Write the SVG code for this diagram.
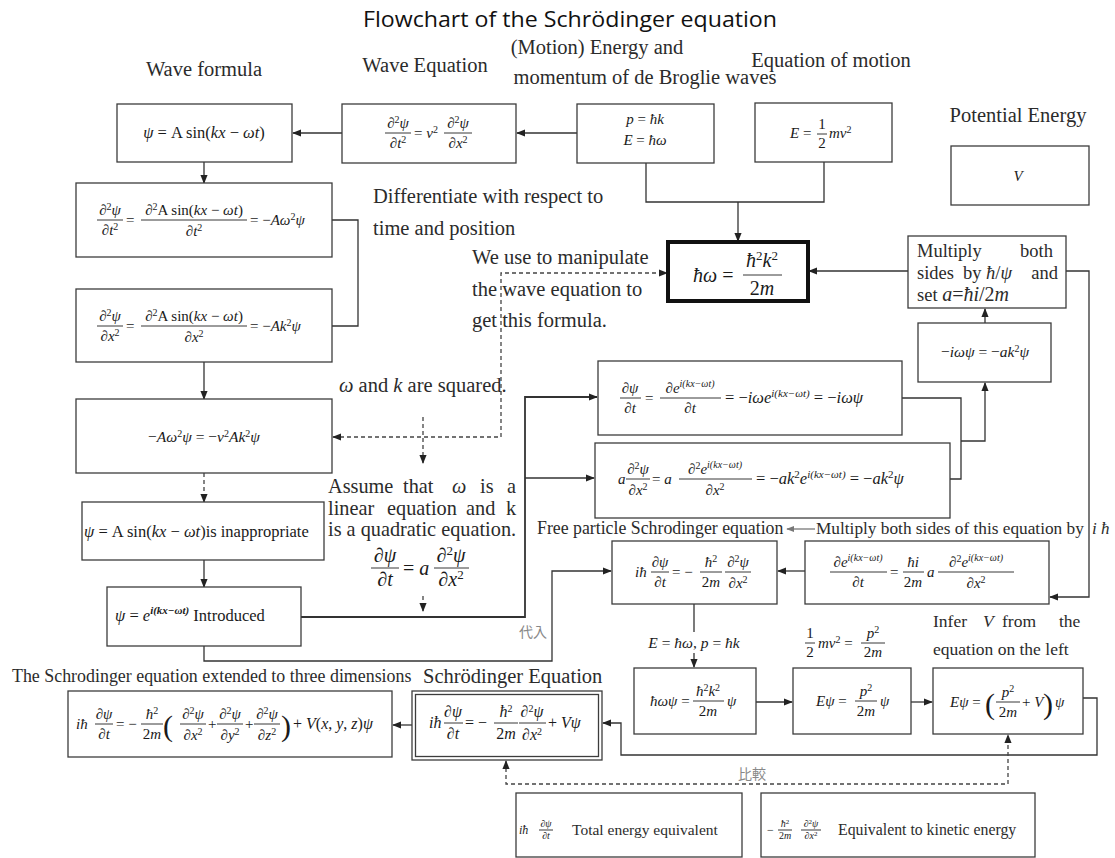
<svg xmlns="http://www.w3.org/2000/svg" width="1115" height="858" viewBox="0 0 1115 858">
<defs>
<style>
.bx{fill:#fff;stroke:#3c3c3c;stroke-width:1.3}
.ln{fill:none;stroke:#333;stroke-width:1.3}
.ds{stroke-dasharray:4 3;stroke:#444}
.fb{stroke:#222;stroke-width:0.9}
.lb{font-family:"Liberation Serif","Times New Roman",serif;font-size:20.5px;fill:#2b2b2b}
.m{font-family:"Liberation Serif","Times New Roman",serif;font-size:15px;fill:#1a1a1a}
.i{font-style:italic}
.sp{font-size:10px}
.cjk{font-family:"Noto Sans CJK JP",sans-serif;font-size:14px;fill:#888}
</style>
<marker id="ah" viewBox="0 0 10 10" refX="9" refY="5" markerWidth="9" markerHeight="9" markerUnits="userSpaceOnUse" orient="auto-start-reverse"><path d="M0,1 L10,5 L0,9 Z" fill="#222"/></marker>
<marker id="ahg" viewBox="0 0 10 10" refX="9" refY="5" markerWidth="8" markerHeight="8" markerUnits="userSpaceOnUse" orient="auto"><path d="M0,1 L10,5 L0,9 Z" fill="#777"/></marker>
</defs>
<rect width="1115" height="858" fill="#fff"/>

<text x="570" y="27" text-anchor="middle" font-family="'Open Sans',sans-serif" font-size="22" fill="#111" textLength="414" lengthAdjust="spacingAndGlyphs">Flowchart of the Schrödinger equation</text>

<g id="labels">
<text class="lb" x="204" y="76" text-anchor="middle">Wave formula</text>
<text class="lb" x="425" y="72" text-anchor="middle">Wave Equation</text>
<text class="lb" x="597" y="54" text-anchor="middle">(Motion) Energy and</text>
<text class="lb" x="645" y="84" text-anchor="middle">momentum of de Broglie waves</text>
<text class="lb" x="831" y="67" text-anchor="middle">Equation of motion</text>
<text class="lb" x="1018" y="122" text-anchor="middle">Potential Energy</text>
<text class="lb" x="373" y="203">Differentiate with respect to</text>
<text class="lb" x="373" y="235">time and position</text>
<text class="lb" x="472" y="264">We use to manipulate</text>
<text class="lb" x="472" y="296">the wave equation to</text>
<text class="lb" x="472" y="327">get this formula.</text>
<text class="lb" x="339" y="392"><tspan class="i">ω</tspan> and <tspan class="i">k</tspan> are squared.</text>
<text class="lb" y="493" style="font-size:20.3px"><tspan x="328">Assume</tspan><tspan x="403">that</tspan><tspan x="452" class="i">ω</tspan><tspan x="480">is</tspan><tspan x="507">a</tspan></text>
<text class="lb" y="515" style="font-size:20.3px"><tspan x="328">linear</tspan><tspan x="387">equation</tspan><tspan x="466">and</tspan><tspan x="506">k</tspan></text>
<text class="lb" x="328" y="536" style="font-size:20.3px">is a quadratic equation.</text>
<g id="eq-assume">
<text class="m" x="385" y="562" style="font-size:20px" text-anchor="middle">∂<tspan class="i">ψ</tspan></text>
<line class="fb" x1="371" y1="568" x2="399" y2="568"/>
<text class="m" x="385" y="586" style="font-size:20px" text-anchor="middle">∂<tspan class="i">t</tspan></text>
<text class="m" x="403" y="575" style="font-size:20px">= <tspan class="i">a</tspan></text>
<text class="m" x="451" y="562" style="font-size:20px" text-anchor="middle">∂<tspan font-size="13" dy="-7">2</tspan><tspan class="i" dy="7">ψ</tspan></text>
<line class="fb" x1="434" y1="568" x2="469" y2="568"/>
<text class="m" x="451" y="586" style="font-size:20px" text-anchor="middle">∂<tspan class="i">x</tspan><tspan font-size="13" dy="-7">2</tspan></text>
</g>
<text class="lb" x="537" y="534" style="font-size:17.8px">Free particle Schrodinger equation</text>
<text class="lb" x="816" y="534" style="font-size:17.3px">Multiply both sides of this equation by</text>
<text class="lb i" x="1092" y="534" style="font-size:17px">i ħ</text>
<text class="lb" y="627" style="font-size:17.5px"><tspan x="933">Infer</tspan><tspan x="983" class="i">V</tspan><tspan x="1002">from</tspan><tspan x="1059">the</tspan></text>
<text class="lb" x="933" y="655" style="font-size:17.5px">equation on the left</text>
<text class="lb" x="423" y="683">Schrödinger Equation</text>
<text class="lb" x="12" y="682" style="font-size:17.9px">The Schrodinger equation extended to three dimensions</text>
<g id="eq-halfmv">
<text class="m" x="810" y="638" text-anchor="middle">1</text>
<line class="fb" x1="805" y1="643" x2="815" y2="643"/>
<text class="m" x="810" y="657" text-anchor="middle">2</text>
<text class="m" x="818" y="648"><tspan class="i">mv</tspan><tspan class="sp" dy="-5">2</tspan><tspan dy="5"> =</tspan></text>
<text class="m" x="873" y="638" text-anchor="middle"><tspan class="i">p</tspan><tspan class="sp" dy="-5">2</tspan></text>
<line class="fb" x1="861" y1="643" x2="885" y2="643"/>
<text class="m" x="873" y="657" text-anchor="middle">2<tspan class="i">m</tspan></text>
</g>
<text class="cjk" x="533" y="637" text-anchor="middle">代入</text>
<text class="cjk" x="752" y="779" text-anchor="middle">比較</text>
</g>

<g id="connectors">
<path class="ln" d="M577,133 H517" marker-end="url(#ah)"/>
<path class="ln" d="M342,133 H293" marker-end="url(#ah)"/>
<path class="ln" d="M204,162 V183" marker-end="url(#ah)"/>
<path class="ln" d="M332,220 H358 V326 H332"/>
<path class="ln" d="M204,362 V399" marker-end="url(#ah)"/>
<path class="ln ds" d="M204,473 V502" marker-end="url(#ah)"/>
<path class="ln" d="M204,560 V587" marker-end="url(#ah)"/>
<path class="ln" d="M646,163 V202 H824 V162"/>
<path class="ln" d="M738,202 V241" marker-end="url(#ah)"/>
<path class="ln" d="M908,271 H809" marker-end="url(#ah)"/>
<path class="ln ds" d="M333,437 H501 V273 H667" marker-start="url(#ah)" marker-end="url(#ah)"/>
<path class="ln ds" d="M423,417 V463" marker-end="url(#ah)"/>
<path class="ln" style="stroke-width:1.8" d="M301,617 H525 V397 H597" marker-end="url(#ah)"/>
<path class="ln" d="M525,478 H594" marker-end="url(#ah)"/>
<path class="ln ds" d="M423,596 V611" marker-end="url(#ah)"/>
<path class="ln" d="M204,646 V661 H552 V571 H611" marker-end="url(#ah)"/>
<path class="ln" d="M902,398 H961 V479 H950"/>
<path class="ln" d="M961,441 H985 V383" marker-end="url(#ah)"/>
<path class="ln" d="M985,323 V309" marker-end="url(#ah)"/>
<path class="ln" d="M1066,271 H1089 V597 H1050" marker-end="url(#ah)"/>
<path class="ln" d="M805,571 H778" marker-end="url(#ah)"/>
<path class="ln" d="M694,604 V667" marker-end="url(#ah)"/>
<path class="ln" d="M756,702 H792" marker-end="url(#ah)"/>
<path class="ln" d="M911,702 H932" marker-end="url(#ah)"/>
<path class="ln" d="M1083,698 H1097 V755 H621 V723 H603" marker-end="url(#ah)"/>
<path class="ln" d="M412,725 H393" marker-end="url(#ah)"/>
<path class="ln ds" d="M506,761 V784 H1008 V735" marker-start="url(#ah)" marker-end="url(#ah)"/>
<path class="ln" style="stroke:#777" d="M815,529 H787" marker-end="url(#ahg)"/>
<rect x="648" y="632" width="92" height="21" fill="#fff"/>
<text class="m" x="694" y="648" text-anchor="middle" style="font-size:15.5px"><tspan class="i">E</tspan> = <tspan class="i">ħω</tspan>, <tspan class="i">p</tspan> = <tspan class="i">ħk</tspan></text>
</g>

<g id="n-wave-formula">
<rect class="bx" x="117" y="104" width="175" height="58"/>
<text class="m" x="204" y="138" text-anchor="middle" style="font-size:16.5px"><tspan class="i">ψ</tspan> = A sin(<tspan class="i">kx</tspan> − <tspan class="i">ωt</tspan>)</text>
</g>

<g id="n-wave-equation">
<rect class="bx" x="342" y="104" width="174" height="59"/>
<text class="m" x="398" y="128" text-anchor="middle">∂<tspan class="sp" dy="-5">2</tspan><tspan class="i" dy="5">ψ</tspan></text>
<line class="fb" x1="385" y1="133" x2="411" y2="133"/>
<text class="m" x="398" y="148" text-anchor="middle">∂<tspan class="i">t</tspan><tspan class="sp" dy="-5">2</tspan></text>
<text class="m" x="414" y="138">= <tspan class="i">v</tspan><tspan class="sp" dy="-5">2</tspan></text>
<text class="m" x="458" y="128" text-anchor="middle">∂<tspan class="sp" dy="-5">2</tspan><tspan class="i" dy="5">ψ</tspan></text>
<line class="fb" x1="444" y1="133" x2="472" y2="133"/>
<text class="m" x="458" y="148" text-anchor="middle">∂<tspan class="i">x</tspan><tspan class="sp" dy="-5">2</tspan></text>
</g>

<g id="n-debroglie">
<rect class="bx" x="577" y="104" width="137" height="59"/>
<text class="m" x="645" y="124" text-anchor="middle"><tspan class="i">p</tspan> = <tspan class="i">ħk</tspan></text>
<text class="m" x="645" y="145" text-anchor="middle"><tspan class="i">E</tspan> = <tspan class="i">ħω</tspan></text>
</g>

<g id="n-motion">
<rect class="bx" x="755" y="103" width="137" height="59"/>
<text class="m" x="790" y="138"><tspan class="i">E</tspan> =</text>
<text class="m" x="822" y="129" text-anchor="middle">1</text>
<line class="fb" x1="817" y1="134" x2="827" y2="134"/>
<text class="m" x="822" y="148" text-anchor="middle">2</text>
<text class="m" x="829" y="138"><tspan class="i">mv</tspan><tspan class="sp" dy="-5">2</tspan></text>
</g>

<g id="n-potential">
<rect class="bx" x="951" y="146" width="138" height="59"/>
<text class="m i" x="1018" y="181" text-anchor="middle">V</text>
</g>

<g id="n-dispersion">
<rect x="668" y="242" width="140" height="59" fill="#fff" stroke="#111" stroke-width="4"/>
<text class="m" x="693" y="282" style="font-size:20px"><tspan class="i">ħω</tspan> =</text>
<text class="m" x="762" y="267" style="font-size:20px" text-anchor="middle"><tspan class="i">ħ</tspan><tspan font-size="13" dy="-7">2</tspan><tspan class="i" dy="7">k</tspan><tspan font-size="13" dy="-7">2</tspan></text>
<line class="fb" x1="743" y1="275" x2="782" y2="275" stroke-width="1.2"/>
<text class="m" x="762" y="295" style="font-size:20px" text-anchor="middle">2<tspan class="i">m</tspan></text>
</g>

<g id="n-multiply">
<rect class="bx" x="908" y="236" width="158" height="72"/>
<text class="lb" y="257" style="font-size:18.5px"><tspan x="917">Multiply</tspan><tspan x="1020">both</tspan></text>
<text class="lb" y="279" style="font-size:18.5px"><tspan x="917">sides</tspan><tspan x="963">by</tspan><tspan x="986" class="i">ħ</tspan>/<tspan class="i">ψ</tspan></text>
<text class="lb" x="1058" y="279" style="font-size:18.5px" text-anchor="end">and</text>
<text class="lb" x="917" y="301" style="font-size:18.5px">set <tspan class="i" font-size="20">a</tspan><tspan font-size="20">=</tspan><tspan class="i" font-size="20">ħi</tspan><tspan font-size="20">/2</tspan><tspan class="i" font-size="20">m</tspan></text>
</g>

<g id="n-dt2">
<rect class="bx" x="76" y="183" width="256" height="74"/>
<text class="m" x="110" y="215" text-anchor="middle">∂<tspan class="sp" dy="-5">2</tspan><tspan class="i" dy="5">ψ</tspan></text>
<line class="fb" x1="97" y1="220" x2="123" y2="220"/>
<text class="m" x="110" y="235" text-anchor="middle">∂<tspan class="i">t</tspan><tspan class="sp" dy="-5">2</tspan></text>
<text class="m" x="126" y="225">=</text>
<text class="m" x="194" y="215" text-anchor="middle">∂<tspan class="sp" dy="-5">2</tspan><tspan dy="5">A sin(</tspan><tspan class="i">kx</tspan> − <tspan class="i">ωt</tspan>)</text>
<line class="fb" x1="141" y1="220" x2="247" y2="220"/>
<text class="m" x="194" y="236" text-anchor="middle">∂<tspan class="i">t</tspan><tspan class="sp" dy="-5">2</tspan></text>
<text class="m" x="250" y="225">= −<tspan class="i">Aω</tspan><tspan class="sp" dy="-5">2</tspan><tspan class="i" dy="5">ψ</tspan></text>
</g>

<g id="n-dx2">
<rect class="bx" x="76" y="289" width="256" height="73"/>
<text class="m" x="110" y="321" text-anchor="middle">∂<tspan class="sp" dy="-5">2</tspan><tspan class="i" dy="5">ψ</tspan></text>
<line class="fb" x1="97" y1="326" x2="123" y2="326"/>
<text class="m" x="110" y="341" text-anchor="middle">∂<tspan class="i">x</tspan><tspan class="sp" dy="-5">2</tspan></text>
<text class="m" x="126" y="331">=</text>
<text class="m" x="194" y="321" text-anchor="middle">∂<tspan class="sp" dy="-5">2</tspan><tspan dy="5">A sin(</tspan><tspan class="i">kx</tspan> − <tspan class="i">ωt</tspan>)</text>
<line class="fb" x1="141" y1="326" x2="247" y2="326"/>
<text class="m" x="194" y="342" text-anchor="middle">∂<tspan class="i">x</tspan><tspan class="sp" dy="-5">2</tspan></text>
<text class="m" x="250" y="331">= −<tspan class="i">Ak</tspan><tspan class="sp" dy="-5">2</tspan><tspan class="i" dy="5">ψ</tspan></text>
</g>

<g id="n-combined">
<rect class="bx" x="76" y="399" width="256" height="74"/>
<text class="m" x="204" y="442" text-anchor="middle" style="font-size:15.5px">−<tspan class="i">Aω</tspan><tspan class="sp" dy="-5">2</tspan><tspan class="i" dy="5">ψ</tspan> = −<tspan class="i">v</tspan><tspan class="sp" dy="-5">2</tspan><tspan class="i" dy="5">Ak</tspan><tspan class="sp" dy="-5">2</tspan><tspan class="i" dy="5">ψ</tspan></text>
</g>

<g id="n-inappropriate">
<rect class="bx" x="82" y="502" width="242" height="58"/>
<text class="m" x="84" y="537" style="font-size:16.5px"><tspan class="i">ψ</tspan> = A sin(<tspan class="i">kx</tspan> − <tspan class="i">ωt</tspan>)is inappropriate</text>
</g>

<g id="n-introduced">
<rect class="bx" x="107" y="587" width="194" height="59"/>
<text class="m" x="115" y="621" style="font-size:16.5px"><tspan class="i">ψ</tspan> = <tspan class="i">e</tspan><tspan class="i" font-size="11" font-weight="bold" dy="-7">i(kx−ωt)</tspan><tspan dy="7"> Introduced</tspan></text>
</g>

<g id="n-dpsi-dt">
<rect class="bx" x="598" y="361" width="304" height="74"/>
<text class="m" x="630" y="393" text-anchor="middle">∂<tspan class="i">ψ</tspan></text>
<line class="fb" x1="620" y1="398" x2="641" y2="398"/>
<text class="m" x="630" y="413" text-anchor="middle">∂<tspan class="i">t</tspan></text>
<text class="m" x="645" y="403">=</text>
<text class="m" x="690" y="393" text-anchor="middle">∂<tspan class="i">e</tspan><tspan class="i sp" dy="-6">i(kx−ωt)</tspan></text>
<line class="fb" x1="660" y1="398" x2="721" y2="398"/>
<text class="m" x="690" y="413" text-anchor="middle">∂<tspan class="i">t</tspan></text>
<text class="m" x="725" y="403" style="font-size:16.5px">= −<tspan class="i">iωe</tspan><tspan class="i" font-size="11" dy="-6">i(kx−ωt)</tspan><tspan dy="6"> = −</tspan><tspan class="i">iωψ</tspan></text>
</g>

<g id="n-d2psi-dx2">
<rect class="bx" x="595" y="443" width="355" height="75"/>
<text class="m i" x="618" y="484">a</text>
<text class="m" x="638" y="474" text-anchor="middle">∂<tspan class="sp" dy="-5">2</tspan><tspan class="i" dy="5">ψ</tspan></text>
<line class="fb" x1="626" y1="479" x2="650" y2="479"/>
<text class="m" x="638" y="495" text-anchor="middle">∂<tspan class="i">x</tspan><tspan class="sp" dy="-5">2</tspan></text>
<text class="m" x="652" y="484">= <tspan class="i">a</tspan></text>
<text class="m" x="715" y="474" text-anchor="middle">∂<tspan class="sp" dy="-5">2</tspan><tspan class="i" dy="5">e</tspan><tspan class="i sp" dy="-6">i(kx−ωt)</tspan></text>
<line class="fb" x1="679" y1="479" x2="752" y2="479"/>
<text class="m" x="715" y="495" text-anchor="middle">∂<tspan class="i">x</tspan><tspan class="sp" dy="-5">2</tspan></text>
<text class="m" x="756" y="484" style="font-size:16.5px">= −<tspan class="i">ak</tspan><tspan font-size="11" dy="-6">2</tspan><tspan class="i" dy="6">e</tspan><tspan class="i" font-size="11" dy="-6">i(kx−ωt)</tspan><tspan dy="6"> = −</tspan><tspan class="i">ak</tspan><tspan font-size="11" dy="-6">2</tspan><tspan class="i" dy="6">ψ</tspan></text>
</g>

<g id="n-iomega">
<rect class="bx" x="918" y="323" width="133" height="59"/>
<text class="m" x="985" y="357" text-anchor="middle" style="font-size:15.5px">−<tspan class="i">iωψ</tspan> = −<tspan class="i">ak</tspan><tspan class="sp" dy="-5">2</tspan><tspan class="i" dy="5">ψ</tspan></text>
</g>

<g id="n-free-particle">
<rect class="bx" x="612" y="541" width="165" height="63"/>
<text class="m i" x="635" y="577">iħ</text>
<text class="m" x="660" y="567" text-anchor="middle">∂<tspan class="i">ψ</tspan></text>
<line class="fb" x1="651" y1="572" x2="669" y2="572"/>
<text class="m" x="660" y="587" text-anchor="middle">∂<tspan class="i">t</tspan></text>
<text class="m" x="672" y="577">= −</text>
<text class="m" x="711" y="567" text-anchor="middle"><tspan class="i">ħ</tspan><tspan class="sp" dy="-5">2</tspan></text>
<line class="fb" x1="700" y1="572" x2="722" y2="572"/>
<text class="m" x="711" y="587" text-anchor="middle">2<tspan class="i">m</tspan></text>
<text class="m" x="738" y="567" text-anchor="middle">∂<tspan class="sp" dy="-5">2</tspan><tspan class="i" dy="5">ψ</tspan></text>
<line class="fb" x1="725" y1="572" x2="751" y2="572"/>
<text class="m" x="738" y="588" text-anchor="middle">∂<tspan class="i">x</tspan><tspan class="sp" dy="-5">2</tspan></text>
</g>

<g id="n-multiply-ih">
<rect class="bx" x="805" y="541" width="244" height="63"/>
<text class="m" x="858" y="567" text-anchor="middle">∂<tspan class="i">e</tspan><tspan class="i sp" dy="-6">i(kx−ωt)</tspan></text>
<line class="fb" x1="830" y1="572" x2="887" y2="572"/>
<text class="m" x="858" y="587" text-anchor="middle">∂<tspan class="i">t</tspan></text>
<text class="m" x="890" y="577">=</text>
<text class="m" x="913" y="567" text-anchor="middle"><tspan class="i">ħi</tspan></text>
<line class="fb" x1="903" y1="572" x2="924" y2="572"/>
<text class="m" x="913" y="587" text-anchor="middle">2<tspan class="i">m</tspan></text>
<text class="m i" x="927" y="577">a</text>
<text class="m" x="976" y="567" text-anchor="middle">∂<tspan class="sp" dy="-5">2</tspan><tspan class="i" dy="5">e</tspan><tspan class="i sp" dy="-6">i(kx−ωt)</tspan></text>
<line class="fb" x1="938" y1="572" x2="1014" y2="572"/>
<text class="m" x="976" y="588" text-anchor="middle">∂<tspan class="i">x</tspan><tspan class="sp" dy="-5">2</tspan></text>
</g>

<g id="n-hbar-omega-psi">
<rect class="bx" x="634" y="668" width="122" height="66"/>
<text class="m" x="650" y="706"><tspan class="i">ħωψ</tspan> =</text>
<text class="m" x="708" y="696" text-anchor="middle"><tspan class="i">ħ</tspan><tspan class="sp" dy="-5">2</tspan><tspan class="i" dy="5">k</tspan><tspan class="sp" dy="-5">2</tspan></text>
<line class="fb" x1="693" y1="701" x2="724" y2="701"/>
<text class="m" x="708" y="716" text-anchor="middle">2<tspan class="i">m</tspan></text>
<text class="m i" x="727" y="706">ψ</text>
</g>

<g id="n-e-psi">
<rect class="bx" x="793" y="668" width="118" height="66"/>
<text class="m" x="816" y="706"><tspan class="i">Eψ</tspan> =</text>
<text class="m" x="866" y="696" text-anchor="middle"><tspan class="i">p</tspan><tspan class="sp" dy="-5">2</tspan></text>
<line class="fb" x1="855" y1="701" x2="877" y2="701"/>
<text class="m" x="866" y="716" text-anchor="middle">2<tspan class="i">m</tspan></text>
<text class="m i" x="880" y="706">ψ</text>
</g>

<g id="n-e-psi-v">
<rect class="bx" x="933" y="668" width="150" height="66"/>
<text class="m" x="950" y="707"><tspan class="i">Eψ</tspan> =</text>
<text class="m" x="985" y="714" style="font-size:30px">(</text>
<text class="m" x="1008" y="697" text-anchor="middle"><tspan class="i">p</tspan><tspan class="sp" dy="-5">2</tspan></text>
<line class="fb" x1="996" y1="702" x2="1020" y2="702"/>
<text class="m" x="1008" y="717" text-anchor="middle">2<tspan class="i">m</tspan></text>
<text class="m" x="1022" y="707">+ <tspan class="i">V</tspan></text>
<text class="m" x="1043" y="714" style="font-size:30px">)</text>
<text class="m i" x="1055" y="707">ψ</text>
</g>

<g id="n-schrodinger">
<rect class="bx" x="412" y="691" width="190" height="69"/>
<rect class="bx" x="415.5" y="694.5" width="183" height="62" stroke-width="1"/>
<text class="m i" x="429" y="728" style="font-size:16px">iħ</text>
<text class="m" x="453" y="717" text-anchor="middle" style="font-size:16px">∂<tspan class="i">ψ</tspan></text>
<line class="fb" x1="444" y1="723" x2="463" y2="723"/>
<text class="m" x="453" y="739" text-anchor="middle" style="font-size:16px">∂<tspan class="i">t</tspan></text>
<text class="m" x="465" y="728" style="font-size:16px">= −</text>
<text class="m" x="506" y="717" text-anchor="middle" style="font-size:16px"><tspan class="i">ħ</tspan><tspan class="sp" dy="-5">2</tspan></text>
<line class="fb" x1="494" y1="723" x2="518" y2="723"/>
<text class="m" x="506" y="739" text-anchor="middle" style="font-size:16px">2<tspan class="i">m</tspan></text>
<text class="m" x="532" y="717" text-anchor="middle" style="font-size:16px">∂<tspan class="sp" dy="-5">2</tspan><tspan class="i" dy="5">ψ</tspan></text>
<line class="fb" x1="519" y1="723" x2="546" y2="723"/>
<text class="m" x="532" y="740" text-anchor="middle" style="font-size:16px">∂<tspan class="i">x</tspan><tspan class="sp" dy="-5">2</tspan></text>
<text class="m" x="548" y="728" style="font-size:16px">+ <tspan class="i">Vψ</tspan></text>
</g>

<g id="n-3d">
<rect class="bx" x="68" y="691" width="324" height="66"/>
<text class="m i" x="76" y="729">iħ</text>
<text class="m" x="104" y="719" text-anchor="middle">∂<tspan class="i">ψ</tspan></text>
<line class="fb" x1="95" y1="724" x2="113" y2="724"/>
<text class="m" x="104" y="739" text-anchor="middle">∂<tspan class="i">t</tspan></text>
<text class="m" x="116" y="729">= −</text>
<text class="m" x="152" y="719" text-anchor="middle"><tspan class="i">ħ</tspan><tspan class="sp" dy="-5">2</tspan></text>
<line class="fb" x1="141" y1="724" x2="163" y2="724"/>
<text class="m" x="152" y="739" text-anchor="middle">2<tspan class="i">m</tspan></text>
<text class="m" x="163" y="736" style="font-size:30px">(</text>
<text class="m" x="193" y="719" text-anchor="middle">∂<tspan class="sp" dy="-5">2</tspan><tspan class="i" dy="5">ψ</tspan></text>
<line class="fb" x1="180" y1="724" x2="206" y2="724"/>
<text class="m" x="193" y="740" text-anchor="middle">∂<tspan class="i">x</tspan><tspan class="sp" dy="-5">2</tspan></text>
<text class="m" x="208" y="729">+</text>
<text class="m" x="230" y="719" text-anchor="middle">∂<tspan class="sp" dy="-5">2</tspan><tspan class="i" dy="5">ψ</tspan></text>
<line class="fb" x1="217" y1="724" x2="243" y2="724"/>
<text class="m" x="230" y="740" text-anchor="middle">∂<tspan class="i">y</tspan><tspan class="sp" dy="-5">2</tspan></text>
<text class="m" x="245" y="729">+</text>
<text class="m" x="267" y="719" text-anchor="middle">∂<tspan class="sp" dy="-5">2</tspan><tspan class="i" dy="5">ψ</tspan></text>
<line class="fb" x1="254" y1="724" x2="280" y2="724"/>
<text class="m" x="267" y="740" text-anchor="middle">∂<tspan class="i">z</tspan><tspan class="sp" dy="-5">2</tspan></text>
<text class="m" x="281" y="736" style="font-size:30px">)</text>
<text class="m" x="293" y="729" style="font-size:16px">+ <tspan class="i">V</tspan>(<tspan class="i">x</tspan>, <tspan class="i">y</tspan>, <tspan class="i">z</tspan>)<tspan class="i">ψ</tspan></text>
</g>

<g id="n-total-energy">
<rect class="bx" x="516" y="793" width="226" height="64"/>
<text class="m i" x="519" y="834" style="font-size:12px">iħ</text>
<text class="m" x="546" y="827" text-anchor="middle" style="font-size:10px">∂<tspan class="i">ψ</tspan></text>
<line class="fb" x1="539" y1="830" x2="553" y2="830" stroke-width="0.7"/>
<text class="m" x="546" y="839" text-anchor="middle" style="font-size:10px">∂<tspan class="i">t</tspan></text>
<text class="lb" x="572" y="835" style="font-size:15.5px">Total energy equivalent</text>
</g>

<g id="n-kinetic">
<rect class="bx" x="761" y="793" width="274" height="64"/>
<text class="m" x="767" y="834" style="font-size:12px">−</text>
<text class="m" x="785" y="827" text-anchor="middle" style="font-size:10px"><tspan class="i">ħ</tspan><tspan font-size="7" dy="-3">2</tspan></text>
<line class="fb" x1="778" y1="830" x2="792" y2="830" stroke-width="0.7"/>
<text class="m" x="785" y="839" text-anchor="middle" style="font-size:10px">2<tspan class="i">m</tspan></text>
<text class="m" x="811" y="827" text-anchor="middle" style="font-size:10px">∂<tspan font-size="7" dy="-3">2</tspan><tspan class="i" dy="3">ψ</tspan></text>
<line class="fb" x1="801" y1="830" x2="821" y2="830" stroke-width="0.7"/>
<text class="m" x="811" y="839" text-anchor="middle" style="font-size:10px">∂<tspan class="i">x</tspan><tspan font-size="7" dy="-3">2</tspan></text>
<text class="lb" x="838" y="835" style="font-size:15.8px">Equivalent to kinetic energy</text>
</g>
</svg>
